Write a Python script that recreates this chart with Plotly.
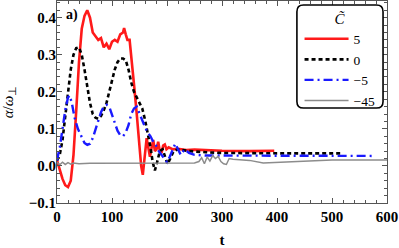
import plotly.graph_objects as go

# C = 5 (red solid)
t_red = [0, 5, 10, 15, 20, 25, 30, 35, 40, 45, 50, 55, 60, 65, 70, 75, 80, 85, 90, 95,
         100, 105, 110, 115, 120, 122, 125, 128, 132, 135, 140, 145, 150, 153, 156, 159,
         163, 166, 169, 172, 175, 178, 181, 184, 187, 190, 193, 196, 199, 203, 210, 220,
         235, 250, 270, 300, 350, 395]
v_red = [0.015, -0.01, -0.035, -0.052, -0.057, -0.04, 0.03, 0.15, 0.28, 0.37, 0.405, 0.42,
         0.40, 0.36, 0.35, 0.34, 0.345, 0.32, 0.33, 0.315, 0.335, 0.34, 0.335, 0.355, 0.36,
         0.372, 0.355, 0.34, 0.34, 0.30, 0.22, 0.14, 0.06, 0.0, -0.024, 0.02, 0.075, 0.05,
         0.025, 0.05, 0.07, 0.04, 0.045, 0.065, 0.04, 0.035, 0.055, 0.058, 0.045, 0.05,
         0.045, 0.046, 0.043, 0.044, 0.042, 0.041, 0.04, 0.041]

# C = 0 (black dashed)
t_blk = [0, 5, 10, 15, 20, 25, 30, 35, 40, 45, 50, 55, 60, 65, 70, 75, 80, 85, 90, 95,
         100, 105, 110, 115, 120, 125, 130, 135, 140, 145, 150, 155, 160, 165, 170, 174,
         178, 182, 187, 192, 197, 201, 206, 212, 220, 240, 270, 300, 400, 515]
v_blk = [0.015, 0.03, 0.07, 0.13, 0.2, 0.26, 0.30, 0.318, 0.32, 0.30, 0.26, 0.21, 0.17,
         0.14, 0.13, 0.127, 0.135, 0.15, 0.17, 0.2, 0.23, 0.26, 0.28, 0.29, 0.29, 0.285,
         0.26, 0.225, 0.2, 0.185, 0.17, 0.155, 0.125, 0.09, 0.05, 0.01, -0.012, 0.01, 0.04,
         0.045, 0.025, 0.005, 0.02, 0.04, 0.045, 0.04, 0.037, 0.035, 0.034, 0.034]

# C = -5 (blue dash-dot)
t_blu = [0, 5, 10, 15, 20, 23, 27, 32, 38, 45, 50, 55, 60, 65, 70, 75, 80, 85, 90, 95,
         100, 105, 110, 115, 120, 125, 130, 135, 140, 145, 150, 155, 160, 165, 170, 175,
         180, 185, 190, 196, 200, 205, 210, 215, 220, 225, 232, 240, 250, 270, 300, 400, 575]
v_blu = [0.015, 0.05, 0.1, 0.15, 0.185, 0.19, 0.17, 0.13, 0.1, 0.075, 0.062, 0.057, 0.06,
         0.075, 0.1, 0.125, 0.145, 0.16, 0.165, 0.16, 0.14, 0.115, 0.095, 0.083, 0.08, 0.09,
         0.11, 0.14, 0.155, 0.16, 0.14, 0.12, 0.105, 0.09, 0.08, 0.065, 0.055, 0.04, 0.03,
         0.02, 0.01, 0.025, 0.045, 0.06, 0.045, 0.03, 0.045, 0.035, 0.03, 0.028, 0.028,
         0.027, 0.027]

# C = -45 (gray solid)
t_gry = [0, 5, 10, 15, 20, 25, 30, 40, 60, 100, 150, 200, 250, 258, 263, 268, 273, 278,
         283, 288, 293, 298, 303, 308, 313, 320, 350, 375, 400, 450, 500, 600]
v_gry = [0.01, 0.003, 0.01, 0.004, 0.009, 0.005, 0.008, 0.006, 0.007, 0.007, 0.007, 0.007,
         0.008, 0.012, 0.022, 0.006, 0.024, 0.013, 0.028, 0.02, 0.026, 0.012, 0.006, 0.004,
         0.02, 0.018, 0.015, 0.008, 0.01, 0.013, 0.016, 0.016]

series_names = ["5", "0", "\u22125", "\u221245"]

x_ticks = [0, 100, 200, 300, 400, 500, 600]
y_ticks = [-0.1, 0.0, 0.1, 0.2, 0.3, 0.4]

SERIF = "'Liberation Serif', serif"

fig = go.Figure()
fig.add_trace(go.Scatter(x=t_red, y=v_red, mode="lines", name=series_names[0],
                         line=dict(color="#ff1a1a", width=2.6)))
fig.add_trace(go.Scatter(x=t_blk, y=v_blk, mode="lines", name=series_names[1],
                         line=dict(color="black", width=2.6, dash="4px,3px")))
fig.add_trace(go.Scatter(x=t_blu, y=v_blu, mode="lines", name=series_names[2],
                         line=dict(color="#1a1aff", width=2.4, dash="9px,4px,2px,4px")))
fig.add_trace(go.Scatter(x=t_gry, y=v_gry, mode="lines", name=series_names[3],
                         line=dict(color="#8c8c8c", width=1.5)))

axis_common = dict(
    showline=True, linecolor="#555", linewidth=1, mirror="ticks",
    ticks="inside", ticklen=5, tickcolor="#555", tickwidth=1,
    showgrid=False, zeroline=False, automargin=False,
    tickfont=dict(family=SERIF, size=15, color="black", weight="bold"),
)

fig.update_xaxes(range=[0, 600], tickvals=x_ticks,
                 minor=dict(ticks="inside", dtick=20, ticklen=3, tickcolor="#555"),
                 title=dict(text="<b>t</b>", font=dict(family=SERIF, size=15, color="black"),
                            standoff=14),
                 **axis_common)
fig.update_yaxes(range=[-0.1, 0.445], tickvals=y_ticks, tickformat=".1f",
                 ticklabelstandoff=-3,
                 minor=dict(ticks="inside", dtick=0.02, tick0=0, ticklen=3, tickcolor="#555"),
                 title=dict(text="<i>\u03b1</i>/<i>\u03c9</i><sub>\u22a5</sub>",
                            font=dict(family=SERIF, size=15, color="black"), standoff=14),
                 **axis_common)

# rounded legend frame
x0, x1, y0, y1 = 0.727, 0.988, 0.47, 0.98
rx, ry = 0.02, 0.033
path = (f"M {x0+rx},{y0} L {x1-rx},{y0} Q {x1},{y0} {x1},{y0+ry} "
        f"L {x1},{y1-ry} Q {x1},{y1} {x1-rx},{y1} L {x0+rx},{y1} "
        f"Q {x0},{y1} {x0},{y1-ry} L {x0},{y0+ry} Q {x0},{y0} {x0+rx},{y0} Z")
fig.add_shape(type="path", path=path, xref="paper", yref="paper",
              line=dict(color="black", width=1.6), fillcolor="white", layer="above")

fig.add_annotation(text="<b>a)</b>", xref="paper", yref="paper", x=0.02, y=0.93,
                   xanchor="left", yanchor="middle", showarrow=False,
                   font=dict(family=SERIF, size=14, color="black"))

fig.update_layout(
    width=399, height=248,
    margin=dict(l=57, r=12, t=1, b=45),
    plot_bgcolor="white", paper_bgcolor="white",
    legend=dict(x=0.735, y=0.985, xanchor="left", yanchor="top",
                bgcolor="rgba(0,0,0,0)", borderwidth=0,
                font=dict(family=SERIF, size=13.5, color="black"),
                title=dict(text="<i>C\u0303</i>", side="top center",
                           font=dict(family=SERIF, size=15, color="black")),
                tracegroupgap=0, itemwidth=44),
)

fig.write_html("out.html", config={"displayModeBar": False},
               post_script="document.body.style.margin='0';")
